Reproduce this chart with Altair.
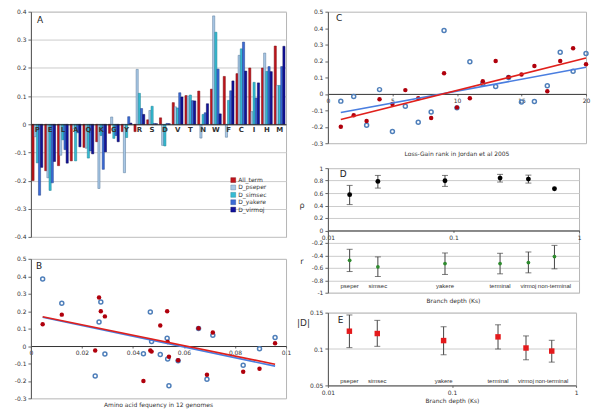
import altair as alt
import pandas as pd

# ---------------- data ----------------
aminos = ["P", "E", "L", "A", "Q", "K", "G", "Y", "R", "S",
          "D", "V", "T", "N", "W", "F", "C", "I", "H", "M"]
all_term = [-0.200, -0.165, -0.147, -0.130, -0.082, -0.062, -0.032, -0.026, -0.026, 0.016,
            0.023, 0.077, 0.102, 0.118, 0.125, 0.170, 0.180, 0.200, 0.200, 0.278]
d_pseper = [-0.044, -0.190, -0.110, -0.016, -0.085, -0.228, 0.026, -0.172, 0.195, 0.049,
            -0.075, 0.062, 0.100, -0.049, 0.385, -0.046, 0.245, 0.045, 0.253, 0.138]
d_simsec = [-0.137, -0.235, -0.055, -0.130, -0.120, -0.040, -0.050, -0.047, 0.110, 0.064,
            -0.077, 0.058, 0.104, 0.035, 0.327, 0.085, 0.268, 0.149, 0.188, 0.138]
d_yakere = [-0.252, -0.208, -0.090, -0.030, -0.095, -0.160, -0.040, 0.027, 0.056, 0.003,
            0.003, 0.112, 0.084, 0.041, 0.196, 0.119, 0.292, 0.093, 0.205, 0.205]
d_virmoj = [-0.153, -0.132, -0.138, -0.080, -0.105, -0.098, -0.062, 0.004, 0.035, 0.002,
            0.002, 0.097, 0.083, 0.073, 0.037, 0.154, 0.189, 0.147, 0.187, 0.277]
aa_freq = [0.0441, 0.0690, 0.0832, 0.0896, 0.0577, 0.0541, 0.0473, 0.0252, 0.0468, 0.0957,
           0.0536, 0.0713, 0.0657, 0.0507, 0.0046, 0.0290, 0.0121, 0.0534, 0.0274, 0.0267]
lossgain_rank = [1, 3, 8, 2, 10, 5, 4, 7, 11, 17, 6, 12, 14, 15, 9, 16, 20, 13, 18, 19]
series_names = ["All_term", "D_pseper", "D_simsec", "D_yakere", "D_virmoj"]

lineages = ["pseper", "simsec", "yakere", "terminal", "virmoj", "non-terminal"]
branch_ks = [0.0149, 0.0250, 0.0856, 0.235, 0.395, 0.637]
rho = [0.574, 0.787, 0.798, 0.840, 0.824, 0.670]
rho_lo = [0.415, 0.680, 0.707, 0.777, 0.760, None]
rho_hi = [0.723, 0.883, 0.883, 0.900, 0.888, None]
r_val = [-0.480, -0.585, -0.532, -0.532, -0.516, -0.420]
r_lo = [-0.660, -0.740, -0.707, -0.697, -0.681, -0.617]
r_hi = [-0.303, -0.425, -0.362, -0.367, -0.346, -0.240]
abs_d = [0.1245, 0.1213, 0.1116, 0.1167, 0.1014, 0.0972]
abs_d_lo = [0.1019, 0.1037, 0.0921, 0.1000, 0.0852, 0.0820]
abs_d_hi = [0.1468, 0.1394, 0.1306, 0.1333, 0.1180, 0.1120]

ticks_a = [-0.4, -0.3, -0.2, -0.1, 0, 0.1, 0.2, 0.3, 0.4]
ticks_bc = [-0.3, -0.2, -0.1, 0, 0.1, 0.2, 0.3, 0.4, 0.5]
ticks_freq = [0, 0.02, 0.04, 0.06, 0.08, 0.1]
ticks_rank = [0, 5, 10, 15, 20]
ticks_d = [-1, -0.8, -0.6, -0.4, -0.2, 0, 0.2, 0.4, 0.6, 0.8, 1]
ticks_e = [0.05, 0.1, 0.15]
ticks_ks = [0.01, 0.1, 1]

# ---------------- style ----------------
FONT = "DejaVu Sans"
NARROW = "Liberation Sans"
TXT = "#333333"
fills = ["#c0141c", "#a9c8e6", "#36bcd4", "#3a6ad6", "#12129e"]
edges = ["#7a0a0e", "#56789a", "#1b7f90", "#1f3f8a", "#06064f"]
RED_PT = "#b0000c"
BLUE_PT = "#4f7fba"


def ax(**kw):
    base = dict(labelFont=FONT, labelFontSize=6, labelColor=TXT, tickSize=3,
                tickColor="#666666", domainColor="#555555", titleFont=FONT,
                titleFontSize=6, titleFontWeight="normal", titleColor=TXT,
                labelPadding=2, gridColor="#cccccc", labelOverlap=False, grid=False,
                tickCount=40, labelExpr="replace(datum.label, '\u2212', '-')")
    base.update(kw)
    return alt.Axis(**base)


def letter(t, x, y):
    return alt.Chart(pd.DataFrame({"t": [t]})).mark_text(
        font=FONT, fontSize=9, color="#222222", align="left", baseline="top"
    ).encode(x=alt.value(x), y=alt.value(y), text="t:N")


def bottom_title(t, off):
    return alt.TitleParams(t, orient="bottom", font=FONT, fontSize=6, fontWeight="normal",
                           color=TXT, offset=off, frame="group", anchor="middle")


# ---------------- panel A ----------------
rows = []
for name, vals in zip(series_names, [all_term, d_pseper, d_simsec, d_yakere, d_virmoj]):
    for aa, v in zip(aminos, vals):
        rows.append({"aa": aa, "series": name, "value": v})
df_a = pd.DataFrame(rows)

A_W, A_H = 256, 226
bars = alt.Chart(df_a).mark_bar(strokeWidth=0.5).encode(
    x=alt.X("aa:N", sort=aminos, scale=alt.Scale(paddingInner=0.15, paddingOuter=0.08),
            axis=ax(title=None, labelAngle=0, ticks=False, offset=-A_H / 2, labelPadding=1,
                    labelFontWeight="bold", labelFontSize=7, domainColor="#222222", zindex=1)),
    xOffset=alt.XOffset("series:N", sort=series_names),
    y=alt.Y("value:Q", scale=alt.Scale(domain=[-0.4, 0.4]),
            axis=ax(title=None, values=ticks_a, grid=True, format="~g")),
    color=alt.Color("series:N", sort=series_names,
                    scale=alt.Scale(domain=series_names, range=fills),
                    legend=alt.Legend(title=None, orient="none", legendX=200, legendY=166,
                                      symbolType="square", symbolSize=24, labelFont=FONT,
                                      labelFontSize=6, labelColor=TXT, rowPadding=-0.6,
                                      labelOffset=2, symbolStrokeColor="#444444",
                                      symbolStrokeWidth=0.4)),
    stroke=alt.Stroke("series:N", scale=alt.Scale(domain=series_names, range=edges), legend=None),
)
panel_a = alt.layer(bars, letter("A", 6, 4)).properties(width=A_W, height=A_H)

# ---------------- panels B and C ----------------
df_aa = pd.DataFrame({"aa": aminos, "all_term": all_term, "pseper": d_pseper,
                      "freq": aa_freq, "rank": lossgain_rank})
y_bc = alt.Scale(domain=[-0.3, 0.5])


def scatter_panel(xfield, xdomain, xticks, w, h, lab, lab_xy):
    xenc = alt.X(f"{xfield}:Q", scale=alt.Scale(domain=xdomain),
                 axis=ax(title=None, values=xticks, format="~g", offset=-h * 0.3 / 0.8,
                         labelFlush=False, domainColor="#333333", tickSize=2))
    yax = ax(title=None, values=ticks_bc, format="~g")
    base = alt.Chart(df_aa)
    blue_pts = base.mark_point(shape="circle", filled=False, size=16, strokeWidth=1.5,
                               color=BLUE_PT, opacity=1).encode(
        x=xenc, y=alt.Y("pseper:Q", scale=y_bc, axis=yax))
    red_pts = base.mark_circle(size=20, color=RED_PT, opacity=1).encode(
        x=xenc, y=alt.Y("all_term:Q", scale=y_bc, axis=yax))
    blue_fit = base.transform_regression(xfield, "pseper").mark_line(
        color="#4a7ee0", strokeWidth=1.6).encode(
        x=xenc, y=alt.Y("pseper:Q", scale=y_bc, axis=yax))
    red_fit = base.transform_regression(xfield, "all_term").mark_line(
        color="#e0201c", strokeWidth=1.6).encode(
        x=xenc, y=alt.Y("all_term:Q", scale=y_bc, axis=yax))
    return alt.layer(blue_pts, red_pts, blue_fit, red_fit, letter(lab, *lab_xy)).properties(
        width=w, height=h)


panel_b = scatter_panel("freq", [0, 0.1], ticks_freq, 256, 140, "B", (5, 3)).properties(
    title=bottom_title("Amino acid fequency in 12 genomes", 1))
panel_c = scatter_panel("rank", [0, 20], ticks_rank, 259, 132, "C", (8, 2)).properties(
    title=bottom_title("Loss-Gain rank in Jordan et al 2005", 5))

# ---------------- panels D and E ----------------
df_br = pd.DataFrame({"lineage": lineages, "ks": branch_ks, "rho": rho, "rho_lo": rho_lo,
                      "rho_hi": rho_hi, "r": r_val, "r_lo": r_lo, "r_hi": r_hi,
                      "absd": abs_d, "absd_lo": abs_d_lo, "absd_hi": abs_d_hi})

D_W, D_H = 252, 125
x_log_d = alt.X("ks:Q", scale=alt.Scale(type="log", domain=[0.01, 1]),
                axis=ax(title=None, values=ticks_ks, format="~g", offset=-D_H / 2,
                        labelFlush=False, domainColor="#333333", tickSize=2))
y_d = alt.Scale(domain=[-1, 1])
y_d_ax = ax(title=None, values=ticks_d, format="~g", grid=True)
bd = alt.Chart(df_br)
err_rho = bd.transform_filter("isValid(datum.rho_lo)").mark_errorbar(
    ticks={"size": 6}, color="#444444", thickness=1).encode(
    x=x_log_d, y=alt.Y("rho_lo:Q", scale=y_d, axis=y_d_ax), y2="rho_hi:Q")
pts_rho = bd.mark_circle(size=24, color="#000000", opacity=1).encode(
    x=x_log_d, y=alt.Y("rho:Q", scale=y_d, axis=y_d_ax))
err_r = bd.mark_errorbar(ticks={"size": 6}, color="#444444", thickness=1).encode(
    x=x_log_d, y=alt.Y("r_lo:Q", scale=y_d, axis=y_d_ax), y2="r_hi:Q")
pts_r = bd.mark_circle(size=14, color="#2e8b2e", opacity=1).encode(
    x=x_log_d, y=alt.Y("r:Q", scale=y_d, axis=y_d_ax))
lab_d = bd.mark_text(font=NARROW, fontSize=6, color=TXT).encode(
    x=x_log_d, y=alt.datum(-0.9, scale=y_d), text="lineage:N")
rho_lab = alt.Chart(pd.DataFrame({"t": ["ρ"]})).mark_text(
    font=FONT, fontSize=8, color=TXT).encode(x=alt.value(-26), y=alt.datum(0.4), text="t:N")
r_lab = alt.Chart(pd.DataFrame({"t": ["r"]})).mark_text(
    font=FONT, fontSize=8, color=TXT).encode(x=alt.value(-26), y=alt.datum(-0.5), text="t:N")
panel_d = alt.layer(err_rho, pts_rho, err_r, pts_r, lab_d, rho_lab, r_lab,
                    letter("D", 12, 2)).properties(
    width=D_W, height=D_H, title=bottom_title("Branch depth (Ks)", 2))

E_W, E_H = 249, 73
x_log_e = alt.X("ks:Q", scale=alt.Scale(type="log", domain=[0.01, 1]),
                axis=ax(title="Branch depth (Ks)", values=ticks_ks, format="~g",
                        labelFlush=False, tickSize=2, titlePadding=2))
y_e = alt.Scale(domain=[0.05, 0.15])
y_e_ax = ax(title=None, values=ticks_e, format="~g", grid=True)
be = alt.Chart(df_br)
err_e = be.mark_errorbar(ticks={"size": 6}, color="#444444", thickness=1).encode(
    x=x_log_e, y=alt.Y("absd_lo:Q", scale=y_e, axis=y_e_ax), y2="absd_hi:Q")
pts_e = be.mark_point(shape="square", filled=True, size=30, color="#e41a1c", opacity=1).encode(
    x=x_log_e, y=alt.Y("absd:Q", scale=y_e, axis=y_e_ax))
lab_e = be.mark_text(font=NARROW, fontSize=6, color=TXT).encode(
    x=x_log_e, y=alt.datum(0.0565, scale=y_e), text="lineage:N")
d_lab = alt.Chart(pd.DataFrame({"t": ["|D|"]})).mark_text(
    font=FONT, fontSize=9, color=TXT, align="left").encode(
    x=alt.value(-31), y=alt.value(10), text="t:N")
panel_e = alt.layer(err_e, pts_e, lab_e, d_lab, letter("E", 10, 3)).properties(
    width=E_W, height=E_H)

# ---------------- compose ----------------
PAD = {"left": 5, "top": -1, "right": 0, "bottom": 0}
left = alt.vconcat(panel_a, panel_b, spacing=14).resolve_scale(color="independent", stroke="independent")
right = alt.vconcat(panel_c, alt.vconcat(panel_d, panel_e, spacing=4), spacing=6)
chart = alt.hconcat(left, right, spacing=4).resolve_scale(
    color="independent", stroke="independent").properties(padding=PAD).configure(
    background="white", padding=PAD
).configure_view(stroke="#b5b5b5", strokeWidth=1)

chart.save("out.html", embed_options={"renderer": "svg", "actions": False})
